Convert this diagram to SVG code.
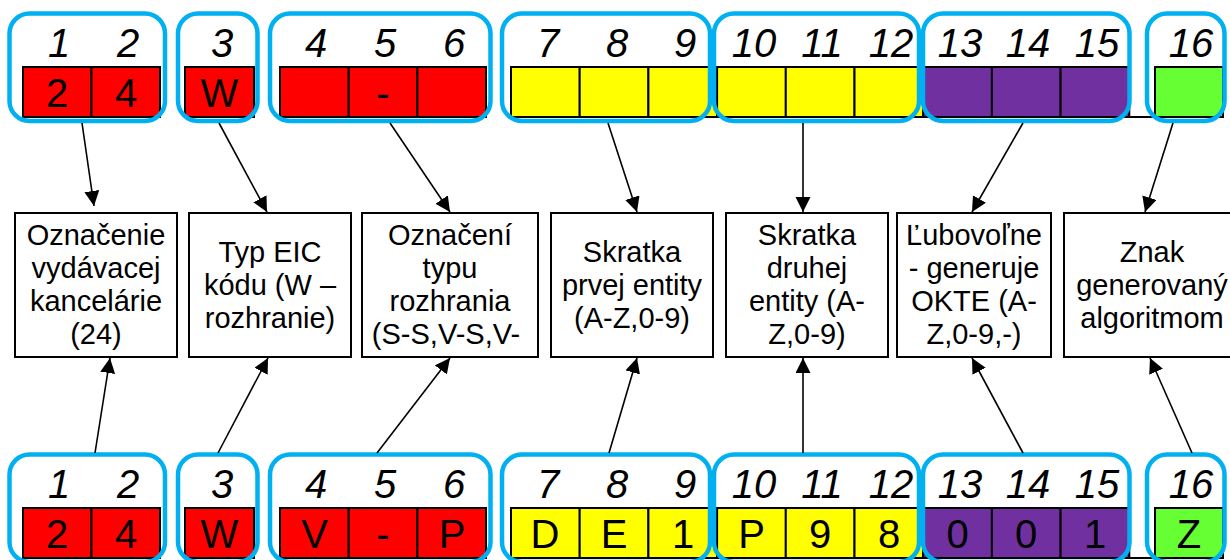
<svg xmlns="http://www.w3.org/2000/svg" width="1230" height="560" viewBox="0 0 1230 560">
<style>
text{font-family:"Liberation Sans",Arial,sans-serif;fill:#000}
.num{font-size:40px;font-style:italic;text-anchor:middle}
.ct{font-size:40px;text-anchor:middle}
.bt{font-size:29px;text-anchor:middle}
.cell{stroke:#000;stroke-width:2}
.r{fill:#FF0000}.y{fill:#FFFF00}.p{fill:#7030A0}.g{fill:#66FF33}
.grp{fill:none;stroke:#00B0F0;stroke-width:4.5}
.box{fill:#fff;stroke:#000;stroke-width:2}
.con line{stroke:#000;stroke-width:1.6;marker-end:url(#ah)}
</style>
<defs>
<marker id="ah" markerUnits="userSpaceOnUse" markerWidth="16" markerHeight="16" refX="15" refY="7.5" orient="auto">
<path d="M0,0 L15,7.5 L0,15 z" fill="#000"/>
</marker>
</defs>
<rect width="1230" height="560" fill="#fff"/>

<!-- TOP ROW -->
<g id="top-row">
<line x1="1129.3" y1="117" x2="1155" y2="117" stroke="#000" stroke-width="2"/>
<rect class="cell r" x="23" y="67" width="68.5" height="50"/>
<rect class="cell r" x="91.5" y="67" width="68.5" height="50"/>
<rect class="cell r" x="185" y="67" width="69" height="50"/>
<rect class="cell r" x="280" y="67" width="68.7" height="50"/>
<rect class="cell r" x="348.7" y="67" width="68.7" height="50"/>
<rect class="cell r" x="417.4" y="67" width="68.6" height="50"/>
<rect class="cell y" x="511" y="67" width="68.7" height="50"/>
<rect class="cell y" x="579.7" y="67" width="68.7" height="50"/>
<rect class="cell y" x="648.4" y="67" width="68.7" height="50"/>
<rect class="cell y" x="717.1" y="67" width="68.7" height="50"/>
<rect class="cell y" x="785.8" y="67" width="68.7" height="50"/>
<rect class="cell y" x="854.5" y="67" width="68.7" height="50"/>
<rect class="cell p" x="923.2" y="67" width="68.7" height="50"/>
<rect class="cell p" x="991.9" y="67" width="68.7" height="50"/>
<rect class="cell p" x="1060.6" y="67" width="68.7" height="50"/>
<rect class="cell g" x="1155" y="67" width="68" height="50"/>
<text class="ct" x="57" y="107">2</text>
<text class="ct" x="126" y="107">4</text>
<text class="ct" x="219.5" y="107">W</text>
<text class="ct" x="383" y="107">-</text>
<text class="num" x="59" y="57">1</text>
<text class="num" x="128" y="57">2</text>
<text class="num" x="222" y="57">3</text>
<text class="num" x="316" y="57">4</text>
<text class="num" x="385" y="57">5</text>
<text class="num" x="454" y="57">6</text>
<text class="num" x="548" y="57">7</text>
<text class="num" x="617" y="57">8</text>
<text class="num" x="685" y="57">9</text>
<text class="num" x="754" y="57">10</text>
<text class="num" x="822" y="57">11</text>
<text class="num" x="891" y="57">12</text>
<text class="num" x="960" y="57">13</text>
<text class="num" x="1028" y="57">14</text>
<text class="num" x="1097" y="57">15</text>
<text class="num" x="1191" y="57">16</text>
</g>
<g id="top-groups">
<rect id="tg1" class="grp" x="9.5" y="13.5" width="155.5" height="107.5" rx="20"/>
<rect id="tg2" class="grp" x="178" y="13.5" width="79.5" height="107.5" rx="20"/>
<rect id="tg3" class="grp" x="270" y="13.5" width="220.5" height="107.5" rx="20"/>
<rect id="tg4" class="grp" x="502" y="13.5" width="208" height="107.5" rx="20"/>
<rect id="tg5" class="grp" x="714" y="13.5" width="205" height="107.5" rx="20"/>
<rect id="tg6" class="grp" x="923" y="13.5" width="206.5" height="107.5" rx="20"/>
<rect id="tg7" class="grp" x="1147" y="13.5" width="77.5" height="107.5" rx="20"/>
</g>

<!-- BOTTOM ROW -->
<g id="bottom-row">
<line x1="1129.3" y1="558" x2="1155" y2="558" stroke="#000" stroke-width="2"/>
<rect class="cell r" x="23" y="508" width="68.5" height="50"/>
<rect class="cell r" x="91.5" y="508" width="68.5" height="50"/>
<rect class="cell r" x="185" y="508" width="69" height="50"/>
<rect class="cell r" x="280" y="508" width="68.7" height="50"/>
<rect class="cell r" x="348.7" y="508" width="68.7" height="50"/>
<rect class="cell r" x="417.4" y="508" width="68.6" height="50"/>
<rect class="cell y" x="511" y="508" width="68.7" height="50"/>
<rect class="cell y" x="579.7" y="508" width="68.7" height="50"/>
<rect class="cell y" x="648.4" y="508" width="68.7" height="50"/>
<rect class="cell y" x="717.1" y="508" width="68.7" height="50"/>
<rect class="cell y" x="785.8" y="508" width="68.7" height="50"/>
<rect class="cell y" x="854.5" y="508" width="68.7" height="50"/>
<rect class="cell p" x="923.2" y="508" width="68.7" height="50"/>
<rect class="cell p" x="991.9" y="508" width="68.7" height="50"/>
<rect class="cell p" x="1060.6" y="508" width="68.7" height="50"/>
<rect class="cell g" x="1155" y="508" width="68" height="50"/>
<text class="ct" x="57" y="548">2</text>
<text class="ct" x="126" y="548">4</text>
<text class="ct" x="219.5" y="548">W</text>
<text class="ct" x="314.5" y="548">V</text>
<text class="ct" x="383" y="548">-</text>
<text class="ct" x="452" y="548">P</text>
<text class="ct" x="545" y="548">D</text>
<text class="ct" x="614" y="548">E</text>
<text class="ct" x="683" y="548">1</text>
<text class="ct" x="751.5" y="548">P</text>
<text class="ct" x="820" y="548">9</text>
<text class="ct" x="889" y="548">8</text>
<text class="ct" x="957.5" y="548">0</text>
<text class="ct" x="1026" y="548">0</text>
<text class="ct" x="1095" y="548">1</text>
<text class="ct" x="1189" y="548">Z</text>
<text class="num" x="59" y="498">1</text>
<text class="num" x="128" y="498">2</text>
<text class="num" x="222" y="498">3</text>
<text class="num" x="316" y="498">4</text>
<text class="num" x="385" y="498">5</text>
<text class="num" x="454" y="498">6</text>
<text class="num" x="548" y="498">7</text>
<text class="num" x="617" y="498">8</text>
<text class="num" x="685" y="498">9</text>
<text class="num" x="754" y="498">10</text>
<text class="num" x="822" y="498">11</text>
<text class="num" x="891" y="498">12</text>
<text class="num" x="960" y="498">13</text>
<text class="num" x="1028" y="498">14</text>
<text class="num" x="1097" y="498">15</text>
<text class="num" x="1191" y="498">16</text>
</g>
<g id="bottom-groups">
<rect id="bg1" class="grp" x="9.5" y="454.5" width="155.5" height="107.5" rx="20"/>
<rect id="bg2" class="grp" x="178" y="454.5" width="79.5" height="107.5" rx="20"/>
<rect id="bg3" class="grp" x="270" y="454.5" width="220.5" height="107.5" rx="20"/>
<rect id="bg4" class="grp" x="502" y="454.5" width="208" height="107.5" rx="20"/>
<rect id="bg5" class="grp" x="714" y="454.5" width="205" height="107.5" rx="20"/>
<rect id="bg6" class="grp" x="923" y="454.5" width="206.5" height="107.5" rx="20"/>
<rect id="bg7" class="grp" x="1147" y="454.5" width="77.5" height="107.5" rx="20"/>
</g>

<!-- MIDDLE BOXES -->
<g id="box1"><rect class="box" x="15" y="213" width="162" height="144"/>
<text class="bt" x="96" y="245">Označenie</text><text class="bt" x="96" y="278">vydávacej</text><text class="bt" x="96" y="311">kancelárie</text><text class="bt" x="96" y="344">(24)</text></g>
<g id="box2"><rect class="box" x="189" y="213" width="162" height="144"/>
<text class="bt" x="270" y="262">Typ EIC</text><text class="bt" x="270" y="295">kódu (W –</text><text class="bt" x="270" y="328">rozhranie)</text></g>
<g id="box3"><rect class="box" x="362" y="213" width="176" height="144"/>
<text class="bt" x="450" y="245">Označení</text><text class="bt" x="450" y="278">typu</text><text class="bt" x="450" y="311">rozhrania</text><text class="bt" x="446" y="344">(S-S,V-S,V-</text></g>
<g id="box4"><rect class="box" x="551" y="213" width="162" height="144"/>
<text class="bt" x="632" y="262">Skratka</text><text class="bt" x="632" y="295">prvej entity</text><text class="bt" x="632" y="328">(A-Z,0-9)</text></g>
<g id="box5"><rect class="box" x="726" y="213" width="162" height="144"/>
<text class="bt" x="807" y="245">Skratka</text><text class="bt" x="807" y="278">druhej</text><text class="bt" x="807" y="311">entity (A-</text><text class="bt" x="807" y="344">Z,0-9)</text></g>
<g id="box6"><rect class="box" x="897" y="213" width="154" height="144"/>
<text class="bt" x="974" y="245">Ľubovoľne</text><text class="bt" x="974" y="278">- generuje</text><text class="bt" x="974" y="311">OKTE (A-</text><text class="bt" x="974" y="344">Z,0-9,-)</text></g>
<g id="box7"><rect class="box" x="1064" y="213" width="176" height="144"/>
<text class="bt" x="1152" y="262">Znak</text><text class="bt" x="1152" y="295">generovaný</text><text class="bt" x="1152" y="328">algoritmom</text></g>

<!-- CONNECTORS -->
<g id="connectors" class="con">
<line x1="82" y1="123" x2="94" y2="206"/>
<line x1="219" y1="123" x2="267" y2="212"/>
<line x1="390" y1="123" x2="450" y2="212"/>
<line x1="608" y1="123" x2="637" y2="212"/>
<line x1="803" y1="123" x2="803" y2="212"/>
<line x1="1023" y1="123" x2="972" y2="212"/>
<line x1="1173" y1="123" x2="1145" y2="212"/>
<line x1="95" y1="453" x2="110" y2="358"/>
<line x1="218" y1="453" x2="268" y2="358"/>
<line x1="377" y1="453" x2="450" y2="358"/>
<line x1="609" y1="453" x2="637" y2="358"/>
<line x1="803" y1="453" x2="803" y2="358"/>
<line x1="1023" y1="453" x2="972" y2="358"/>
<line x1="1192" y1="453" x2="1150" y2="358"/>
</g>
</svg>
